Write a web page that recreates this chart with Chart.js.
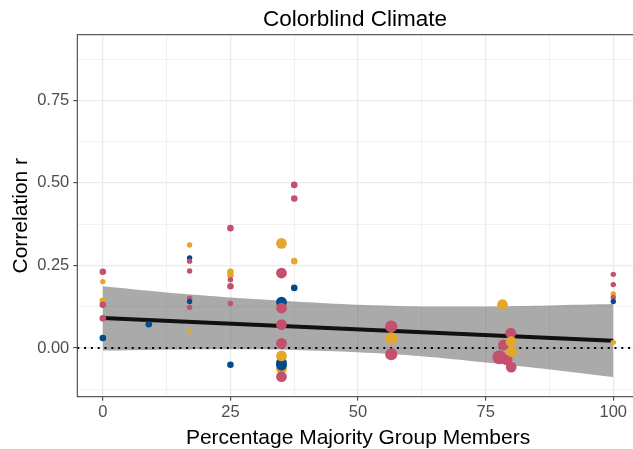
<!DOCTYPE html>
<html>
<head>
<meta charset="utf-8">
<script src="https://cdn.jsdelivr.net/npm/chart.js@4.4.1/dist/chart.umd.min.js"></script>
<style>
  html, body { margin: 0; padding: 0; background: #ffffff; overflow: hidden; }
  #wrap { width: 650px; height: 449px; }
</style>
</head>
<body>
<div id="wrap"><canvas id="chart" width="650" height="449"></canvas></div>
<script>
// Colorblind Climate: correlation r vs percentage of majority group members

// study points, drawn in this order (later ones sit on top)
const ptX = [
  0, 0, 0, 0, 0, 0,
  9,
  17, 17, 17, 17, 17, 17, 17, 17,
  25, 25, 25, 25, 25, 25, 25,
  35, 35, 35, 35, 35, 35, 35, 35, 35, 35, 35,
  37.5, 37.5, 37.5, 37.5,
  56.5, 56.5, 56.5,
  78.3, 79.9, 78.5, 77.7, 79.2, 80, 80, 80.1,
  100, 100, 100, 100, 100, 100
];
const ptY = [
  0.231, 0.201, 0.143, 0.131, 0.090, 0.030,
  0.072,
  0.312, 0.273, 0.263, 0.233, 0.151, 0.141, 0.123, 0.051,
  0.363, 0.231, 0.220, 0.207, 0.187, 0.135, -0.051,
  0.317, 0.227, 0.139, 0.121, 0.071, 0.014, -0.062, -0.052, -0.045, -0.024, -0.087,
  0.494, 0.453, 0.263, 0.182,
  0.065, 0.029, -0.019,
  0.131, 0.045, 0.009, -0.028, -0.036, -0.058, 0.019, -0.011,
  0.223, 0.192, 0.164, 0.153, 0.141, 0.017
];
// group: A / B / C
const ptGroup = [
  "A", "B", "B", "A", "A", "C",
  "C",
  "B", "C", "A", "A", "A", "C", "A", "B",
  "A", "B", "B", "A", "A", "A", "C",
  "B", "A", "C", "A", "A", "A", "B", "C", "C", "B", "A",
  "A", "A", "B", "C",
  "A", "B", "A",
  "B", "A", "A", "A", "A", "A", "B", "B",
  "A", "A", "B", "A", "C", "B"
];
// relative sample size class (1 = smallest)
const ptSize = [
  2, 1, 2, 2, 2, 2,
  2,
  1, 1, 1, 1, 1, 1, 1, 1,
  2, 2, 2, 1, 2, 1, 2,
  4, 4, 4, 4, 4, 4, 4, 4, 4, 4, 4,
  2, 2, 2, 2,
  5, 5, 5,
  4, 4, 4, 6, 4, 4, 4, 4,
  1, 1, 1, 1, 1, 1
];

// linear fit and its confidence band
const fitX = [0, 100];
const fitY = [0.091, 0.022];
const bandX = [0, 12.5, 25, 37.5, 50, 62.5, 75, 87.5, 100];
const bandUpper = [0.187, 0.168, 0.153, 0.141, 0.131, 0.126, 0.126, 0.129, 0.133];
const bandLower = [-0.008, -0.005, -0.004, -0.006, -0.013, -0.025, -0.044, -0.065, -0.088];

// axis ticks (major ones get labels)
const xTicks = [0, 12.5, 25, 37.5, 50, 62.5, 75, 87.5, 100];
const xMajor = [0, 25, 50, 75, 100];
const yTicks = [-0.125, 0, 0.125, 0.25, 0.375, 0.5, 0.625, 0.75, 0.875];
const yMajor = [0, 0.25, 0.5, 0.75];

const groupColors = { A: "#C5506B", B: "#E5A72B", C: "#004B8D" };
const sizeRadius = [2.7, 3.3, 4.2, 5.4, 6.1, 7.0];
const FONT = "'Liberation Sans', Arial, sans-serif";

function toXY(xs, ys) {
  const out = [];
  for (let i = 0; i < xs.length; i++) out.push({ x: xs[i], y: ys[i] });
  return out;
}

function isMajor(list, v) {
  return list.some(function(m) { return Math.abs(m - v) < 1e-9; });
}

// title + full panel border (ggplot theme_bw look)
const panelPlugin = {
  id: "panelDecor",
  afterDraw: function(chart) {
    const ctx = chart.ctx;
    const a = chart.chartArea;
    ctx.save();
    ctx.strokeStyle = "#333333";
    ctx.lineWidth = 1;
    ctx.strokeRect(a.left, a.top, a.right - a.left, a.bottom - a.top);
    ctx.fillStyle = "#000000";
    ctx.font = "22.5px " + FONT;
    ctx.textAlign = "center";
    ctx.textBaseline = "middle";
    ctx.fillText("Colorblind Climate", 355, 20);
    ctx.restore();
  }
};

const ctx = document.getElementById("chart").getContext("2d");

new Chart(ctx, {
  type: "scatter",
  data: {
    datasets: [
      {
        label: "studies",
        data: toXY(ptX, ptY),
        pointRadius: ptSize.map(function(s) { return sizeRadius[s - 1]; }),
        pointBackgroundColor: ptGroup.map(function(g) { return groupColors[g]; }),
        pointBorderWidth: 0,
        pointHoverRadius: ptSize.map(function(s) { return sizeRadius[s - 1]; }),
        order: 0
      },
      {
        type: "line",
        label: "zero",
        data: [{ x: -5, y: 0 }, { x: 105, y: 0 }],
        borderColor: "#000000",
        borderWidth: 1.8,
        borderDash: [2, 4.8],
        pointRadius: 0,
        fill: false,
        order: 1
      },
      {
        type: "line",
        label: "fit",
        data: toXY(fitX, fitY),
        borderColor: "#111111",
        borderWidth: 4,
        pointRadius: 0,
        fill: false,
        order: 2
      },
      {
        type: "line",
        label: "upper",
        data: toXY(bandX, bandUpper),
        borderWidth: 0,
        pointRadius: 0,
        tension: 0.3,
        backgroundColor: "rgba(85, 85, 85, 0.5)",
        fill: "+1",
        order: 3
      },
      {
        type: "line",
        label: "lower",
        data: toXY(bandX, bandLower),
        borderWidth: 0,
        pointRadius: 0,
        tension: 0.3,
        fill: false,
        order: 4
      }
    ]
  },
  options: {
    responsive: false,
    animation: false,
    events: [],
    layout: { padding: { left: 0, right: 11.2, top: 34.7, bottom: 0 } },
    plugins: {
      legend: { display: false },
      tooltip: { enabled: false },
      title: { display: false }
    },
    scales: {
      x: {
        type: "linear",
        min: -5,
        max: 105,
        afterBuildTicks: function(scale) {
          scale.ticks = xTicks.map(function(v) { return { value: v }; });
        },
        afterFit: function(scale) { scale.height = 52.3; },
        border: { display: false },
        grid: {
          color: "#ebebeb",
          lineWidth: function(c) { return isMajor(xMajor, c.tick.value) ? 1.3 : 0.7; },
          tickColor: function(c) { return isMajor(xMajor, c.tick.value) ? "#333333" : "rgba(0,0,0,0)"; },
          tickLength: 4,
          tickWidth: 1
        },
        ticks: {
          autoSkip: false,
          maxRotation: 0,
          padding: 3.5,
          color: "#4d4d4d",
          font: { family: FONT, size: 16.5, lineHeight: 1 },
          callback: function(v) { return isMajor(xMajor, v) ? String(v) : ""; }
        },
        title: {
          display: true,
          text: "Percentage Majority Group Members",
          color: "#000000",
          font: { family: FONT, size: 21, lineHeight: 1 },
          padding: { top: 0, bottom: 0.5 }
        }
      },
      y: {
        type: "linear",
        min: -0.1476,
        max: 0.949,
        afterBuildTicks: function(scale) {
          scale.ticks = yTicks.map(function(v) { return { value: v }; });
        },
        afterFit: function(scale) { scale.width = 77.3; },
        border: { display: false },
        grid: {
          color: "#ebebeb",
          lineWidth: function(c) { return isMajor(yMajor, c.tick.value) ? 1.3 : 0.7; },
          tickColor: function(c) { return isMajor(yMajor, c.tick.value) ? "#333333" : "rgba(0,0,0,0)"; },
          tickLength: 4,
          tickWidth: 1
        },
        ticks: {
          autoSkip: false,
          padding: 4,
          color: "#4d4d4d",
          font: { family: FONT, size: 16.5, lineHeight: 1 },
          callback: function(v) { return isMajor(yMajor, v) ? v.toFixed(2) : ""; }
        },
        title: {
          display: true,
          text: "Correlation r",
          color: "#000000",
          font: { family: FONT, size: 21, lineHeight: 1 },
          padding: { top: 11, bottom: 0 }
        }
      }
    }
  },
  plugins: [panelPlugin]
});
</script>
</body>
</html>
